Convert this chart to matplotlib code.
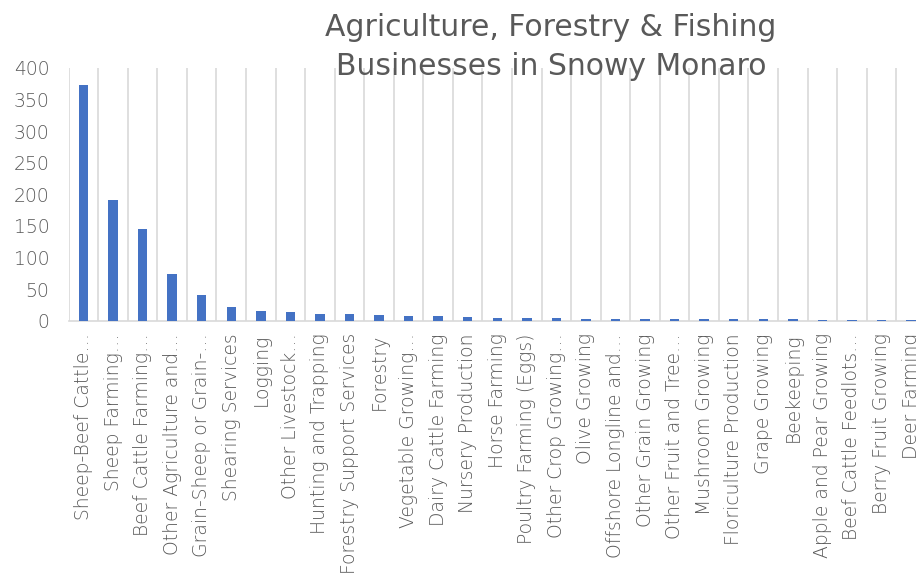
import matplotlib

matplotlib.use("Agg")
import matplotlib.pyplot as plt
import numpy as np

# Business counts by industry class, Snowy Monaro
CATEGORIES = [
    "Sheep-Beef Cattle…",
    "Sheep Farming…",
    "Beef Cattle Farming…",
    "Other Agriculture and…",
    "Grain-Sheep or Grain-…",
    "Shearing Services",
    "Logging",
    "Other Livestock…",
    "Hunting and Trapping",
    "Forestry Support Services",
    "Forestry",
    "Vegetable Growing…",
    "Dairy Cattle Farming",
    "Nursery Production",
    "Horse Farming",
    "Poultry Farming (Eggs)",
    "Other Crop Growing…",
    "Olive Growing",
    "Offshore Longline and…",
    "Other Grain Growing",
    "Other Fruit and Tree…",
    "Mushroom Growing",
    "Floriculture Production",
    "Grape Growing",
    "Beekeeping",
    "Apple and Pear Growing",
    "Beef Cattle Feedlots…",
    "Berry Fruit Growing",
    "Deer Farming",
]
BUSINESSES = [373, 191, 145, 74, 41, 22, 15, 13, 11, 10, 9, 7, 7, 6, 5, 5, 4,
              3, 3, 3, 2, 2, 2, 2, 2, 1, 1, 1, 1]
Y_TICKS = [0, 50, 100, 150, 200, 250, 300, 350, 400]

TEXT_GREY = "#595959"
GRID_GREY = "#d9d9d9"
BAR_BLUE = "#4472C4"

plt.rcParams["font.family"] = ["DejaVu Sans"]
plt.rcParams["font.weight"] = "light"

fig = plt.figure(figsize=(9.16, 5.85), dpi=100)
ax = fig.add_axes([0.075, 0.4518, 0.9357, 0.432])

x = np.arange(len(CATEGORIES))
ax.bar(x, BUSINESSES, width=0.32, color=BAR_BLUE, zorder=3)

ax.set_xlim(-0.5, len(CATEGORIES) - 0.5)
ax.set_ylim(0, 400)
ax.set_yticks(Y_TICKS)
ax.set_xticks(x)
ax.set_xticklabels(CATEGORIES, rotation=90, fontsize=13.5, color=TEXT_GREY)
ax.set_xticks(np.arange(len(CATEGORIES) + 1) - 0.5, minor=True)
ax.tick_params(axis="y", length=0, labelsize=13.5, labelcolor=TEXT_GREY, pad=14)
ax.tick_params(axis="x", which="both", length=0, pad=9)
ax.grid(axis="x", which="minor", color=GRID_GREY, linewidth=1.2, zorder=0)
ax.grid(axis="x", which="major", visible=False)

for side in ("top", "right", "left"):
    ax.spines[side].set_visible(False)
ax.spines["bottom"].set_color(GRID_GREY)
ax.spines["bottom"].set_linewidth(1.2)

fig.text(0.6015, 0.977, "Agriculture, Forestry & Fishing\nBusinesses in Snowy Monaro",
         ha="center", va="top", fontsize=21.5, fontweight="normal",
         color=TEXT_GREY, linespacing=1.4)

fig.savefig("out.png", dpi=100)
